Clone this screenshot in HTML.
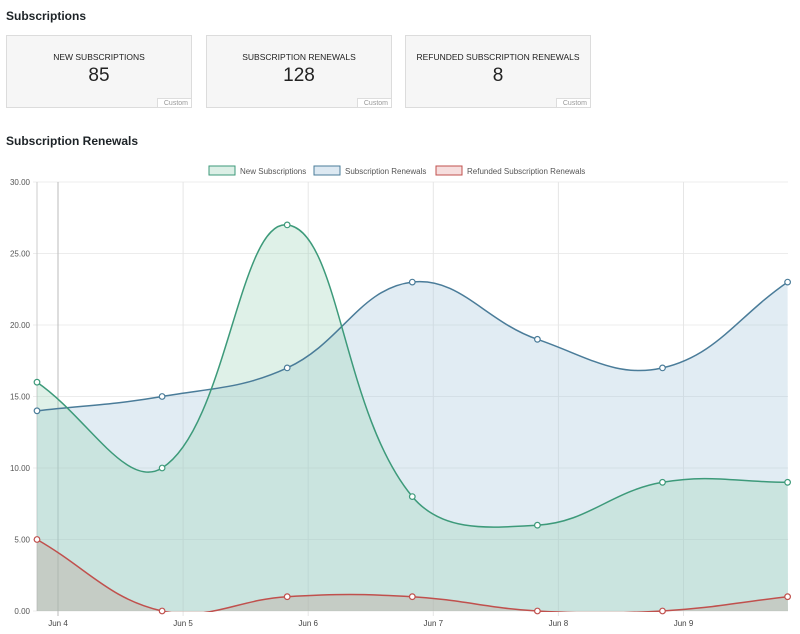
<!DOCTYPE html>
<html><head><style>
body{margin:0;width:800px;height:634px;background:#fff;font-family:"Liberation Sans",sans-serif;color:#222;position:relative;overflow:hidden}
h2{position:absolute;left:6px;margin:0;font-size:12px;font-weight:bold;color:#1d2327}
.card{position:absolute;top:35px;width:184px;height:71px;background:#f6f6f6;border:1px solid #dcdcdc;text-align:center}
.card .t{font-size:8.5px;margin-top:16px;color:#222}
.card .v{font-size:19px;margin-top:3px;color:#222}
.card .c{position:absolute;right:0;bottom:0;background:#fff;border-left:1px solid #ddd;border-top:1px solid #ddd;font-size:7px;color:#999;padding:1px 3px 0 6px}
</style></head><body>
<h2 style="top:9px">Subscriptions</h2>
<div class="card" style="left:6px"><div class="t">NEW SUBSCRIPTIONS</div><div class="v">85</div><div class="c">Custom</div></div>
<div class="card" style="left:206px"><div class="t">SUBSCRIPTION RENEWALS</div><div class="v">128</div><div class="c">Custom</div></div>
<div class="card" style="left:405px"><div class="t">REFUNDED SUBSCRIPTION RENEWALS</div><div class="v">8</div><div class="c">Custom</div></div>
<h2 style="top:134px">Subscription Renewals</h2>
<svg id="s" width="800" height="634" style="position:absolute;left:0;top:0" font-family="Liberation Sans, sans-serif"></svg>
<script>
var s=document.getElementById('s'),h='<defs><clipPath id="cl"><rect x="30" y="175" width="770" height="437"/></clipPath></defs>';
var X0=37,dx=125.1,Y0=611,k=14.3;
function y(v){return Y0-v*k}
[0,5,10,15,20,25,30].forEach(function(v){h+='<line x1="33" x2="788" y1="'+y(v)+'" y2="'+y(v)+'" stroke="#ececec"/>';h+='<text x="30" y="'+(y(v)+3)+'" font-size="8" fill="#555" text-anchor="end">'+v.toFixed(2)+'</text>'});
['Jun 4','Jun 5','Jun 6','Jun 7','Jun 8','Jun 9'].forEach(function(l,i){var x=58+i*125.1;h+='<line x1="'+x+'" x2="'+x+'" y1="182" y2="616" stroke="#e6e6e6"/>';h+='<text x="'+x+'" y="626" font-size="8" fill="#444" text-anchor="middle">'+l+'</text>'});
h+='<line x1="58" x2="58" y1="182" y2="616" stroke="#bbb"/>';
h+='<line x1="37" x2="37" y1="182" y2="611" stroke="#ccc"/>';
function path(d){var p=d.map(function(v,i){return[X0+i*dx,y(v)]}),t=0.4,cp=[];
for(var i=0;i<p.length;i++){var a=p[Math.max(i-1,0)],b=p[i],c=p[Math.min(i+1,p.length-1)];
var d01=Math.hypot(b[0]-a[0],b[1]-a[1]),d12=Math.hypot(c[0]-b[0],c[1]-b[1]);var s01=d01/(d01+d12)||0,s12=d12/(d01+d12)||0;
cp.push([[b[0]-t*s01*(c[0]-a[0]),b[1]-t*s01*(c[1]-a[1])],[b[0]+t*s12*(c[0]-a[0]),b[1]+t*s12*(c[1]-a[1])]])}
var str='M'+p[0];for(i=1;i<p.length;i++)str+=' C'+cp[i-1][1]+' '+cp[i][0]+' '+p[i];return {d:str,p:p}}
var ds=[[[14,15,17,23,19,17,23],'rgba(170,200,220,0.35)','#4a7c99'],[[16,10,27,8,6,9,9],'rgba(150,210,180,0.3)','#3d9a7a'],[[5,0,1,1,0,0,1],'rgba(190,160,150,0.35)','#c0504d']];
var lines='',pts='';
ds.forEach(function(q){var r=path(q[0]);h+='<path clip-path="url(#cl)" d="'+r.d+' L788,611 L37,611Z" fill="'+q[1]+'"/>';
lines+='<path clip-path="url(#cl)" d="'+r.d+'" fill="none" stroke="'+q[2]+'" stroke-width="1.5"/>';r.p.forEach(function(pt){pts+='<circle cx="'+pt[0]+'" cy="'+pt[1]+'" r="2.8" fill="#fff" stroke="'+q[2]+'" stroke-width="1.2"/>'})});
h+=lines+pts;
[[209,'New Subscriptions','#3d9a7a','#dcefe6'],[314,'Subscription Renewals','#4a7c99','#dde9f2'],[436,'Refunded Subscription Renewals','#c0504d','#f6dede']].forEach(function(l){h+='<rect x="'+l[0]+'" y="166" width="26" height="9" fill="'+l[3]+'" stroke="'+l[2]+'" stroke-width="1"/><text x="'+(l[0]+31)+'" y="174" font-size="8" fill="#555">'+l[1]+'</text>'});
s.innerHTML=h;
</script>
</body></html>
